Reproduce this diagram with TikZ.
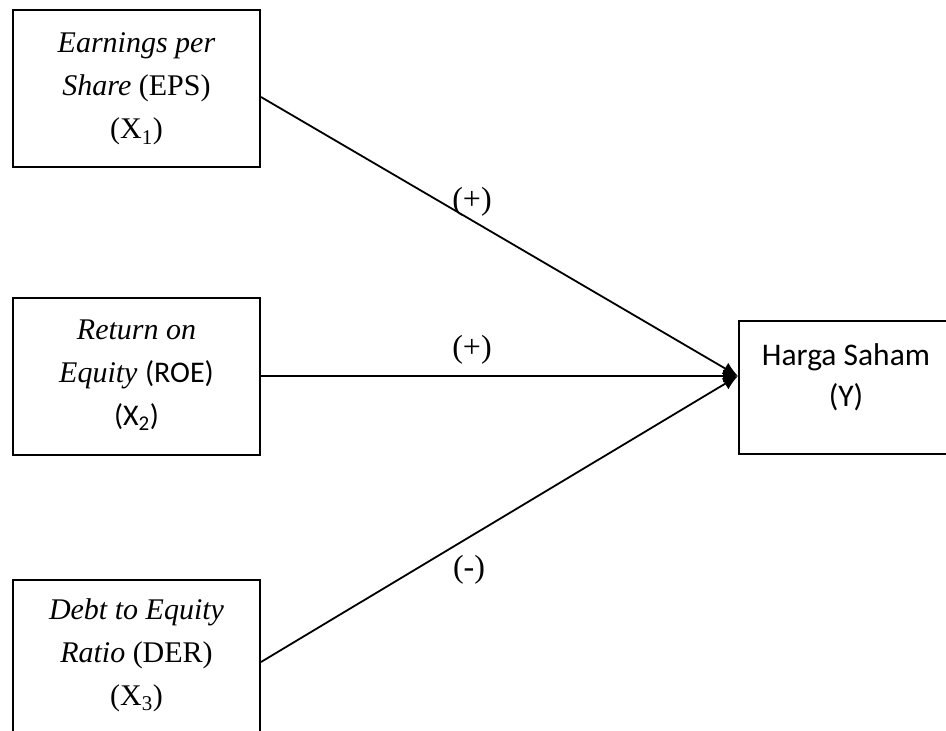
\documentclass[tikz,border=0pt]{standalone}
\usepackage{fontspec}
\setmainfont{Liberation Serif}
\newfontfamily\calibri{Carlito}
\usetikzlibrary{arrows.meta}
\begin{document}
\begin{tikzpicture}[x=1pt,y=-1pt,
  box/.style={draw, line width=2pt, minimum width=247pt, minimum height=157pt, inner sep=0pt},
  txt/.style={align=center, font=\fontsize{30}{43}\selectfont, inner sep=0pt},
  ytxt/.style={align=center, font=\calibri\fontsize{31.5}{41}\selectfont, inner sep=0pt},
  conn/.style={line width=1.8pt, -{Latex[length=15pt,width=13pt]}},
  lbl/.style={font=\fontsize{32}{34}\selectfont, inner sep=0pt}]
\useasboundingbox (0,0) rectangle (946,731);
\clip (0,0) rectangle (946,731);
\node[box] (b1) at (136.5,88.5) {};
\node[box] (b2) at (136.5,376) {};
\node[box] (b3) at (136.5,658.5) {};
\node[box, minimum width=230pt, minimum height=133pt] (y) at (854,387.5) {};
\node[txt] (t1) at (136.5,89) {\textit{Earnings per}\\\textit{Share} (EPS)\\(X\textsubscript{1})};
\node[txt] (t2) at (136.5,375) {\textit{Return on}\\\textit{Equity} {\calibri(ROE)}\\{\calibri(X\textsubscript{2})}};
\node[txt] (t3) at (136.5,655) {\textit{Debt to Equity}\\\textit{Ratio} (DER)\\(X\textsubscript{3})};
\node[ytxt] (ty) at (846,377) {Harga Saham\\(Y)};
\draw[conn] ([yshift=-8.5pt]b1.east) -- ([yshift=11.5pt]y.west);
\draw[conn] (b2.east) -- ([yshift=11.5pt]y.west);
\draw[conn] ([yshift=-3.5pt]b3.east) -- ([yshift=11.5pt]y.west);
\node[lbl] (l1) at (472,202) {(+)};
\node[lbl] (l2) at (472,350) {(+)};
\node[lbl] (l3) at (469,570) {(-)};
\end{tikzpicture}
\end{document}
